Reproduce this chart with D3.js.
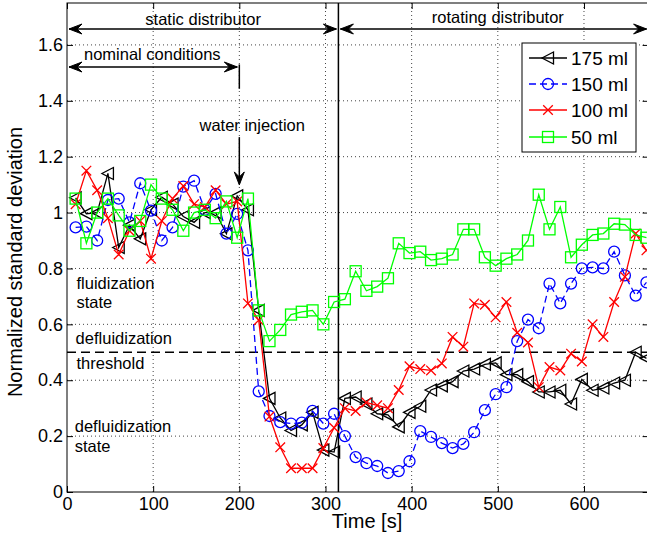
<!DOCTYPE html>
<html>
<head>
<meta charset="utf-8">
<script src="https://cdn.jsdelivr.net/npm/d3@7"></script>
<style>
  html, body { margin: 0; padding: 0; background: #fff; }
  svg { display: block; }
  text { font-family: "Liberation Sans", Arial, Helvetica, sans-serif; fill: #000; }
</style>
</head>
<body>
<svg id="chart" width="647" height="547"></svg>
<script>
// ---------------- data ----------------
const times = [10, 22.5, 35, 47.5, 60, 72.5, 85, 97.5, 110, 122.5, 135, 147.5, 160, 172.5, 185, 197.5,
  210, 222.5, 235, 247.5, 260, 272.5, 285, 297.5, 310, 322.5, 335, 347.5, 360, 372.5, 385, 397.5,
  410, 422.5, 435, 447.5, 460, 472.5, 485, 497.5, 510, 522.5, 535, 547.5, 560, 572.5, 585, 597.5,
  610, 622.5, 635, 647.5, 660, 672.5];

const series175 = [1.053, 0.996, 1.0, 1.14, 0.875, 0.955, 0.906, 1.01, 1.055, 1.03, 0.986, 0.965, 1.0, 1.0, 0.924, 1.06, 1.01,
  0.65, 0.335, 0.265, 0.22, 0.24, 0.285,
  0.15, 0.143, 0.335, 0.34, 0.315, 0.28, 0.276, 0.233, 0.285, 0.307, 0.365, 0.38, 0.395, 0.433, 0.44, 0.457,
  0.462, 0.42, 0.42, 0.395, 0.358, 0.358, 0.364, 0.315, 0.403, 0.364, 0.372, 0.39, 0.40, 0.50, 0.478];

const series150 = [0.947, 0.95, 0.90, 1.045, 1.05, 0.965, 1.105, 1.007, 0.90, 0.947, 1.093, 1.114, 1.01, 1.067, 0.925, 0.995, 0.865,
  0.36, 0.272, 0.25, 0.245, 0.248, 0.29, 0.245, 0.28, 0.20, 0.125, 0.103, 0.093, 0.068, 0.075, 0.11,
  0.218, 0.197, 0.175, 0.157, 0.172, 0.214, 0.293, 0.35, 0.375, 0.54, 0.617, 0.586,
  0.746, 0.675, 0.746, 0.80, 0.804, 0.80, 0.86, 0.775, 0.703, 0.75];

const series100 = [1.03, 1.15, 1.08, 0.98, 0.85, 0.935, 0.97, 0.835, 0.97, 1.05, 1.095, 1.03, 1.02, 1.08, 1.03, 1.04,
  0.675, 0.615, 0.27, 0.16, 0.085, 0.085, 0.085, 0.157,
  0.23, 0.30, 0.29, 0.32, 0.31, 0.30, 0.365, 0.45, 0.44, 0.435, 0.46, 0.555, 0.52, 0.675, 0.67, 0.625,
  0.68, 0.57, 0.535, 0.375, 0.447, 0.435, 0.495, 0.467, 0.60, 0.555, 0.68, 0.77, 0.925, 0.865];

const series50 = [1.05, 0.89, 1.00, 1.05, 0.99, 0.935, 0.97, 1.10, 1.05, 1.01, 0.935, 1.00, 1.01, 0.98, 1.04, 0.91, 1.05,
  0.65, 0.54, 0.58, 0.635, 0.645, 0.65, 0.60, 0.68, 0.69, 0.79, 0.72, 0.735, 0.765, 0.89, 0.855, 0.86, 0.83,
  0.835, 0.85, 0.94, 0.94, 0.84, 0.81, 0.835, 0.85, 0.90, 1.064, 0.94, 1.02, 0.84, 0.885, 0.92, 0.925,
  0.96, 0.957, 0.92, 0.91];

const seriesNames = ["175 ml", "150 ml", "100 ml", "50 ml"];
const xTicks = [0, 100, 200, 300, 400, 500, 600];
const xTickLabels = ["0", "100", "200", "300", "400", "500", "600"];
const yTicks = [0, 0.2, 0.4, 0.6, 0.8, 1.0, 1.2, 1.4, 1.6];
const yTickLabels = ["0", "0.2", "0.4", "0.6", "0.8", "1", "1.2", "1.4", "1.6"];
const xLabel = "Time [s]";
const yLabel = "Normalized standard deviation";
const threshold = 0.5;
const switchTime = 315;
const injectionTime = 200;

// ---------------- setup ----------------
const svg = d3.select("#chart");
const W = 647, H = 547;
const x = d3.scaleLinear().domain([0, 675]).range([67, 648.6]);
const y = d3.scaleLinear().domain([0, 1.75]).range([492, 3]);
const x0 = x.range()[0], x1 = x.range()[1];
const y0 = y.range()[0], y1 = y.range()[1];

svg.append("rect").attr("width", W).attr("height", H).attr("fill", "#fff");

// grid
const grid = svg.append("g");
xTicks.filter(d => d > 0).forEach(d => {
  grid.append("line").attr("x1", x(d)).attr("x2", x(d)).attr("y1", y0).attr("y2", y1)
    .attr("stroke", "#444").attr("stroke-width", 1).attr("stroke-dasharray", "1,3");
});
yTicks.filter(d => d > 0).forEach(d => {
  grid.append("line").attr("x1", x0).attr("x2", x1).attr("y1", y(d)).attr("y2", y(d))
    .attr("stroke", "#444").attr("stroke-width", 1).attr("stroke-dasharray", "1,3");
});

// axes
const fontTick = 18;
const axB = svg.append("g").attr("transform", `translate(0,${y0})`)
  .call(d3.axisBottom(x).tickValues(xTicks).tickFormat((d, i) => xTickLabels[i]).tickSizeInner(-6).tickSizeOuter(0).tickPadding(5));
const axT = svg.append("g").attr("transform", `translate(0,${y1})`)
  .call(d3.axisTop(x).tickValues(xTicks).tickFormat("").tickSizeInner(-6).tickSizeOuter(0));
const axL = svg.append("g").attr("transform", `translate(${x0},0)`)
  .call(d3.axisLeft(y).tickValues(yTicks).tickFormat((d, i) => yTickLabels[i]).tickSizeInner(-6).tickSizeOuter(0).tickPadding(4));
const axR = svg.append("g").attr("transform", `translate(${x1},0)`)
  .call(d3.axisRight(y).tickValues(yTicks).tickFormat("").tickSizeInner(-6).tickSizeOuter(0));
[axB, axT, axL, axR].forEach(a => {
  a.select(".domain").remove();
  a.selectAll(".tick line").attr("stroke", "#000").attr("stroke-width", 1);
  a.selectAll("text").attr("font-size", fontTick).attr("font-family", "Liberation Sans, Arial, sans-serif").attr("fill", "#000");
});

// frame
svg.append("rect").attr("x", x0).attr("y", y1).attr("width", x1 - x0).attr("height", y0 - y1)
  .attr("fill", "none").attr("stroke", "#000").attr("stroke-width", 1);

// axis labels
svg.append("text").attr("x", (x0 + 647) / 2 + 10).attr("y", 528).attr("text-anchor", "middle")
  .attr("font-size", 20).text(xLabel);
svg.append("text").attr("transform", `translate(22,262) rotate(-90)`).attr("text-anchor", "middle")
  .attr("font-size", 20).text(yLabel);

// threshold line
svg.append("line").attr("x1", x0).attr("x2", x1).attr("y1", y(threshold)).attr("y2", y(threshold))
  .attr("stroke", "#000").attr("stroke-width", 1.5).attr("stroke-dasharray", "9,5");
// switch line
svg.append("line").attr("x1", x(switchTime)).attr("x2", x(switchTime)).attr("y1", y0).attr("y2", y1)
  .attr("stroke", "#000").attr("stroke-width", 1.5);

// ---------------- series ----------------
const colors = ["#000000", "#0000ff", "#ff0000", "#00ff00"];
const allSeries = [series175, series150, series100, series50];
const dashes = [null, "7,4", null, null];
const markerTypes = ["triL", "circle", "x", "square"];

function drawMarker(g, type, cx, cy, color) {
  const sw = 1.3;
  if (type === "triL") {
    g.append("path").attr("d", `M${cx - 6},${cy} L${cx + 5.5},${cy - 6} L${cx + 5.5},${cy + 6} Z`)
      .attr("fill", "none").attr("stroke", color).attr("stroke-width", sw);
  } else if (type === "circle") {
    g.append("circle").attr("cx", cx).attr("cy", cy).attr("r", 5.5)
      .attr("fill", "none").attr("stroke", color).attr("stroke-width", sw);
  } else if (type === "x") {
    const s = 4.8;
    g.append("path").attr("d", `M${cx - s},${cy - s} L${cx + s},${cy + s} M${cx - s},${cy + s} L${cx + s},${cy - s}`)
      .attr("fill", "none").attr("stroke", color).attr("stroke-width", sw);
  } else if (type === "square") {
    g.append("rect").attr("x", cx - 5.5).attr("y", cy - 5.5).attr("width", 11).attr("height", 11)
      .attr("fill", "none").attr("stroke", color).attr("stroke-width", sw);
  }
}

const lineGen = d3.line().x(d => x(d[0])).y(d => y(d[1]));
allSeries.forEach((vals, si) => {
  const pts = vals.map((v, i) => [times[i], v]);
  const g = svg.append("g");
  g.append("path").attr("d", lineGen(pts)).attr("fill", "none").attr("stroke", colors[si])
    .attr("stroke-width", 1.3).attr("stroke-dasharray", dashes[si]);
  pts.forEach(p => drawMarker(g, markerTypes[si], x(p[0]), y(p[1]), colors[si]));
});

// ---------------- annotations ----------------
function arrowHead(g, tx, ty, dir) {
  let d;
  if (dir === "r") d = `M${tx},${ty} L${tx - 13},${ty - 5} L${tx - 8},${ty} L${tx - 13},${ty + 5} Z`;
  else if (dir === "l") d = `M${tx},${ty} L${tx + 13},${ty - 5} L${tx + 8},${ty} L${tx + 13},${ty + 5} Z`;
  else d = `M${tx},${ty} L${tx - 5},${ty - 13} L${tx},${ty - 8} L${tx + 5},${ty - 13} Z`;
  g.append("path").attr("d", d).attr("fill", "#000").attr("stroke", "#000").attr("stroke-width", 1);
}
const ann = svg.append("g");
function hDoubleArrow(t1, t2, v) {
  const xa = x(t1) + 2, xb = x(t2) - 2, yy = y(v);
  ann.append("line").attr("x1", xa).attr("x2", xb).attr("y1", yy).attr("y2", yy).attr("stroke", "#000").attr("stroke-width", 1.5);
  arrowHead(ann, xa, yy, "l");
  arrowHead(ann, xb, yy, "r");
}
hDoubleArrow(0, switchTime, 1.657);
hDoubleArrow(switchTime, 675, 1.657);
hDoubleArrow(0, injectionTime, 1.521);
ann.append("line").attr("x1", x(injectionTime)).attr("x2", x(injectionTime)).attr("y1", y(1.53)).attr("y2", y(1.443))
  .attr("stroke", "#000").attr("stroke-width", 1.5);
ann.append("line").attr("x1", x(injectionTime)).attr("x2", x(injectionTime)).attr("y1", y(1.27)).attr("y2", y(1.105))
  .attr("stroke", "#000").attr("stroke-width", 1.5);
arrowHead(ann, x(injectionTime), y(1.099), "d");

const fs = 16.5;
function label(txt, t, v, anchor) {
  ann.append("text").attr("x", x(t)).attr("y", y(v)).attr("text-anchor", anchor || "start")
    .attr("font-size", fs).text(txt);
}
label("static distributor", 158, 1.672, "middle");
label("rotating distributor", 500, 1.678, "middle");
label("nominal conditions", 99, 1.546, "middle");
label("water injection", 215, 1.292, "middle");
label("fluidization", 11, 0.727);
label("state", 11, 0.659);
label("defluidization", 10, 0.530);
label("threshold", 11, 0.441);
label("defluidization", 9, 0.215);
label("state", 9, 0.143);

// ---------------- legend ----------------
const leg = svg.append("g");
leg.append("rect").attr("x", 522).attr("y", 43).attr("width", 114).attr("height", 109)
  .attr("fill", "#fff").attr("stroke", "#000").attr("stroke-width", 1);
const rowY = [58, 84, 110, 137];
seriesNames.forEach((name, i) => {
  leg.append("line").attr("x1", 529).attr("x2", 567).attr("y1", rowY[i]).attr("y2", rowY[i])
    .attr("stroke", colors[i]).attr("stroke-width", 1.3).attr("stroke-dasharray", dashes[i]);
  drawMarker(leg, markerTypes[i], 548, rowY[i], colors[i]);
  leg.append("text").attr("x", 571).attr("y", rowY[i]).attr("dy", "0.35em").attr("font-size", 19).text(name);
});
</script>
</body>
</html>
